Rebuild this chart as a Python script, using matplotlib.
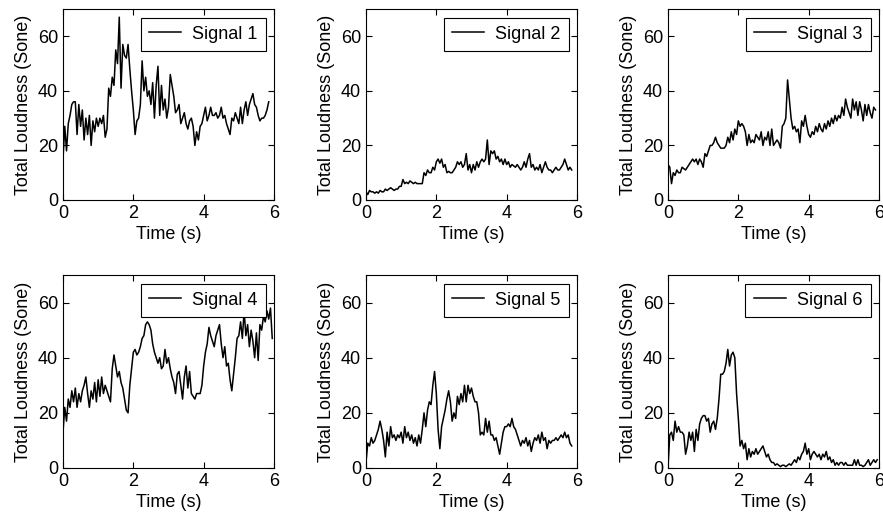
import numpy as np
import matplotlib
matplotlib.use("Agg")
import matplotlib.pyplot as plt

plt.rcParams["font.family"] = ["Liberation Sans", "DejaVu Sans"]
plt.rcParams["font.size"] = 13

# sampling step of the loudness curves (s)
dt = 0.05

signal_1 = [15, 27, 18, 28, 31, 35, 36, 36, 24, 35, 27, 33, 22, 30, 24, 31, 20, 29, 25, 30,
            27, 30, 28, 31, 23, 26, 41, 38, 45, 42, 55, 50, 67, 41, 57, 53, 52, 57, 48, 40,
            33, 24, 29, 30, 35, 51, 40, 45, 38, 40, 35, 43, 30, 42, 49, 31, 42, 33, 37, 30,
            34, 46, 42, 38, 32, 33, 35, 28, 30, 32, 28, 26, 29, 30, 27, 20, 25, 22, 27, 28,
            31, 34, 29, 31, 34, 31, 31, 32, 30, 31, 34, 30, 31, 28, 26, 24, 30, 29, 32, 30,
            28, 34, 28, 33, 36, 31, 35, 37, 39, 35, 34, 31, 29, 30, 30, 31, 33, 36]

signal_2 = [3, 2, 3.5, 3, 3, 2.5, 3, 2.5, 3.5, 3, 3, 4, 3.5, 4, 4.5, 4, 3.5, 4, 4, 5,
            5, 7.5, 6, 6.5, 6, 7, 6.5, 6, 6.5, 6, 6, 6, 6, 10, 9, 11, 10, 10, 12, 11,
            14, 15, 13.5, 15, 12, 13, 10, 10.5, 10, 10, 11, 12, 14, 13, 14, 12, 13, 17, 11, 13,
            10, 13, 11, 14, 12, 14, 15, 14, 15, 22, 13, 18, 17, 18, 15, 16, 14, 15, 13, 15,
            13, 14, 12, 13, 12.5, 12, 13, 12, 11, 12, 14, 12, 15, 17, 12, 13, 11, 12, 11, 13,
            10, 12, 14, 12, 11, 11, 10, 11, 12, 11, 11, 12, 13, 15, 13, 11, 12, 11]

signal_3 = [13, 12, 6, 10, 9, 11, 10, 10, 12, 11.5, 11, 12, 13, 14, 15, 14, 15, 13, 15, 14,
            12, 17, 16, 18, 20, 20, 21, 23, 21, 20, 19, 19, 19, 20, 23, 21, 25, 22, 26, 24,
            29, 27, 28, 27, 25, 20, 24, 21, 22, 21, 24, 23, 22, 25, 20, 23, 22, 25, 20, 26,
            20, 21, 22, 21, 19, 27, 28, 30, 44, 37, 30, 26, 27, 25, 26, 21, 29, 27, 31, 27,
            24, 23, 25, 24, 27, 25, 28, 26, 25, 28, 26, 29, 27, 30, 28, 31, 29, 31, 30, 34,
            31, 37, 34, 32, 30, 37, 33, 36, 31, 36, 33, 29, 35, 31, 35, 32, 30, 34, 33]

signal_4 = [13, 22, 17, 25, 22, 28, 24, 29, 22, 27, 24, 28, 30, 33, 27, 22, 28, 25, 31, 24,
            32, 26, 33, 27, 30, 28, 26, 24, 36, 41, 37, 33, 35, 31, 29, 25, 21, 20, 30, 36,
            42, 43, 41, 42, 44, 47, 48, 52, 53, 52, 50, 45, 42, 40, 38, 40, 36, 37, 43, 38,
            40, 36, 33, 31, 27, 34, 35, 30, 25, 33, 37, 29, 35, 27, 26, 25, 27, 27, 27, 30,
            37, 42, 45, 51, 48, 46, 44, 48, 50, 52, 45, 40, 44, 37, 38, 32, 28, 34, 40, 47,
            48, 53, 47, 57, 48, 52, 44, 50, 46, 40, 49, 39, 52, 50, 55, 53, 57, 54, 58, 47]

signal_5 = [2, 9, 8, 11, 9, 10, 12, 14, 17, 14, 10, 4, 13, 8, 15, 11, 12, 10, 12, 11,
            13, 9, 15, 11, 13, 10, 12, 9, 11, 8, 12, 9, 14, 20, 15, 21, 24, 23, 30, 35,
            27, 14, 7, 15, 18, 21, 25, 28, 24, 17, 20, 18, 26, 23, 27, 24, 30, 24, 30, 27,
            29, 26, 24, 24, 20, 12, 13, 12, 18, 13, 17, 12, 12, 10, 11, 8, 5, 9, 13, 15,
            15, 16, 15, 18, 15, 14, 12, 10, 8, 10, 9, 11, 8, 10, 6, 9, 11, 10, 12, 9,
            13, 10, 11, 7, 10, 9, 10, 10, 11, 10, 11, 12, 11, 13, 11, 12, 9, 8]

signal_6 = [0, 12, 13, 10, 17, 13, 15, 13, 13, 12, 5, 8, 13, 10, 13, 6, 14, 10, 16, 18,
            19, 19, 17, 18, 13, 16, 17, 14, 18, 25, 34, 34, 35, 38, 43, 37, 41, 42, 40, 27,
            18, 8, 10, 7, 9, 3, 7, 4, 6, 5, 7, 5, 6, 7, 8, 6, 4, 5, 3, 2,
            2, 1, 1.5, 1, 0.5, 1, 1, 0.5, 1, 1.5, 1, 2, 3, 2, 4, 3, 5, 6, 9, 5,
            7, 3, 5, 6, 5, 4, 5, 3, 5, 4, 6, 3, 4, 2, 3, 1, 2, 1, 2, 2,
            1, 2, 1, 1, 1, 1, 3, 1, 3, 1, 1, 0.5, 1, 2, 3, 1, 2, 3, 2, 3]

signals = [signal_1, signal_2, signal_3, signal_4, signal_5, signal_6]
labels = ["Signal 1", "Signal 2", "Signal 3", "Signal 4", "Signal 5", "Signal 6"]

fig = plt.figure(figsize=(8.83, 5.22), dpi=100)

W, H = 883, 522
lefts = [63, 366, 668]
rows = [(9, 200), (275, 468)]  # top, bottom in pixels

for i, (sig, lab) in enumerate(zip(signals, labels)):
    top, bottom = rows[i // 3]
    left = lefts[i % 3]
    ax = fig.add_axes([left / W, 1 - bottom / H, 211 / W, (bottom - top) / H])
    t = np.arange(len(sig)) * dt
    ax.plot(t, sig, color="black", linewidth=1.1, label=lab)
    ax.set_xlim(0, 6)
    ax.set_ylim(0, 70)
    ax.set_xticks([0, 2, 4, 6])
    ax.set_yticks([0, 20, 40, 60])
    ax.tick_params(direction="in", top=True, right=True, length=4, width=0.8)
    for s in ax.spines.values():
        s.set_linewidth(0.8)
    ax.set_xlabel("Time (s)", labelpad=3)
    ax.set_ylabel("Total Loudness (Sone)")
    leg = ax.legend(loc="upper right", bbox_to_anchor=(0.96, 0.955), borderaxespad=0,
                    fancybox=False, framealpha=1, edgecolor="black",
                    handlelength=1.8, handletextpad=0.6, borderpad=0.45)
    leg.get_frame().set_linewidth(0.8)

fig.savefig("out.png", dpi=100)
